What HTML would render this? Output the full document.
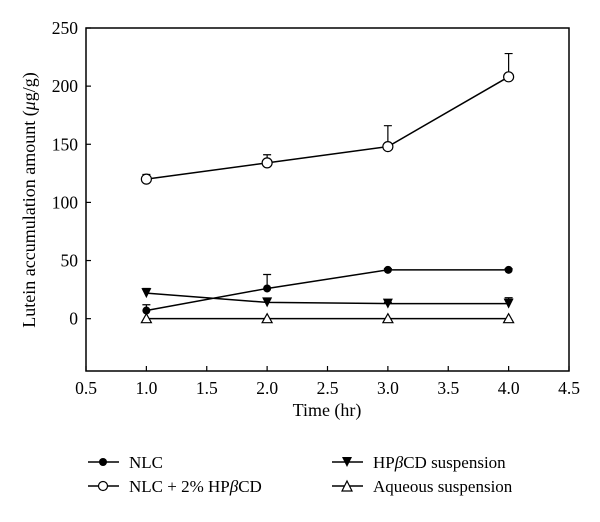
<!DOCTYPE html>
<html><head><meta charset="utf-8"><style>
body{margin:0;background:#fff;}
text{font-family:"Liberation Serif",serif;fill:#000;}
</style></head><body>
<svg id="chart" width="600" height="517" xmlns="http://www.w3.org/2000/svg">
<rect x="0" y="0" width="600" height="517" fill="#fff"/>
<g id="plot"></g>
<text x="327" y="416" font-size="18" text-anchor="middle">Time (hr)</text>
<text transform="translate(35,200) rotate(-90)" font-size="18" text-anchor="middle">Lutein accumulation amount (<tspan font-style="italic">μ</tspan>g/g)</text>
<g font-size="17">
 <g><line x1="88" y1="462" x2="119" y2="462" stroke="#000" stroke-width="1.5"/><circle cx="103" cy="462" r="4" fill="#000"/><text x="129" y="468">NLC</text></g>
 <g><line x1="88" y1="486" x2="119" y2="486" stroke="#000" stroke-width="1.5"/><circle cx="103" cy="486" r="4.5" fill="#fff" stroke="#000" stroke-width="1.2"/><text x="129" y="492">NLC + 2% HP<tspan font-style="italic">β</tspan>CD</text></g>
 <g><line x1="332" y1="462" x2="363" y2="462" stroke="#000" stroke-width="1.5"/><path d="M342,457 L352,457 L347,467 Z" fill="#000"/><text x="373" y="468">HP<tspan font-style="italic">β</tspan>CD suspension</text></g>
 <g><line x1="332" y1="486" x2="363" y2="486" stroke="#000" stroke-width="1.5"/><path d="M342,491 L352,491 L347,481 Z" fill="#fff" stroke="#000" stroke-width="1.2"/><text x="373" y="492">Aqueous suspension</text></g>
</g>
</svg>
<script>
const times=[1,2,3,4];
const nlc=[7,26,42,42];
const nlcErr=[5,12,1,1];
const nlcHp=[120,134,148,208];
const nlcHpErr=[4,7,18,20];
const hpSusp=[22,14,13,13];
const hpSuspErr=[4,3,1,5];
const aqueous=[0,0,0,0];
const xTicks=["0.5","1.0","1.5","2.0","2.5","3.0","3.5","4.0","4.5"];
const yTicks=[0,50,100,150,200,250];
const NS="http://www.w3.org/2000/svg";
const L=86,R=569,T=28,B=371;
const xMin=0.5,xMax=4.5,yMin=-45,yMax=250;
const X=v=>L+(v-xMin)/(xMax-xMin)*(R-L);
const Y=v=>B-(v-yMin)/(yMax-yMin)*(B-T);
const g=document.getElementById('plot');
function mk(tag,attrs,parent){const e=document.createElementNS(NS,tag);for(const k in attrs)e.setAttribute(k,attrs[k]);(parent||g).appendChild(e);return e;}
const frame=mk('rect',{x:L,y:T,width:R-L,height:B-T,fill:'none',stroke:'#000','stroke-width':1.5});


xTicks.forEach(t=>{const v=parseFloat(t);
 const l=mk('line',{x1:X(v),x2:X(v),y1:B,y2:B-5,stroke:'#000','stroke-width':1.2});
 
 
 const tx=mk('text',{x:X(v),y:B+23,'font-size':17.5,'text-anchor':'middle'});tx.textContent=t;
 
 
});
yTicks.forEach(v=>{
 const l=mk('line',{x1:L,x2:L+5,y1:Y(v),y2:Y(v),stroke:'#000','stroke-width':1.2});
 
 
 const tx=mk('text',{x:L-8,y:Y(v)+6,'font-size':17.5,'text-anchor':'end'});tx.textContent=v;
 
 
});
function series(name,vals,errs,marker){
 const sg=mk('g',{});
 
 
 const pl=mk('polyline',{points:vals.map((v,i)=>X(times[i])+','+Y(v)).join(' '),fill:'none',stroke:'#000','stroke-width':1.5},sg);
 
 
 vals.forEach((v,i)=>{const x=X(times[i]),y=Y(v);
  if(errs&&errs[i]>0){const ye=Y(v+errs[i]);
   const e=mk('path',{d:`M${x},${y} L${x},${ye} M${x-4},${ye} L${x+4},${ye}`,stroke:'#000','stroke-width':1.2,fill:'none'},sg);
   
   }
  let m;
  if(marker==='fc')m=mk('circle',{cx:x,cy:y,r:4,fill:'#000'},sg);
  else if(marker==='oc')m=mk('circle',{cx:x,cy:y,r:5,fill:'#fff',stroke:'#000','stroke-width':1.2},sg);
  else if(marker==='dt')m=mk('path',{d:`M${x-5},${y-5} L${x+5},${y-5} L${x},${y+5} Z`,fill:'#000'},sg);
  else m=mk('path',{d:`M${x-5},${y+4} L${x+5},${y+4} L${x},${y-5} Z`,fill:'#fff',stroke:'#000','stroke-width':1.2},sg);
  
  
 });
}
series('series-aqueous',aqueous,null,'ut');
series('series-hpbcd-suspension',hpSusp,hpSuspErr,'dt');
series('series-nlc',nlc,nlcErr,'fc');
series('series-nlc-hpbcd',nlcHp,nlcHpErr,'oc');
</script>
</body></html>
